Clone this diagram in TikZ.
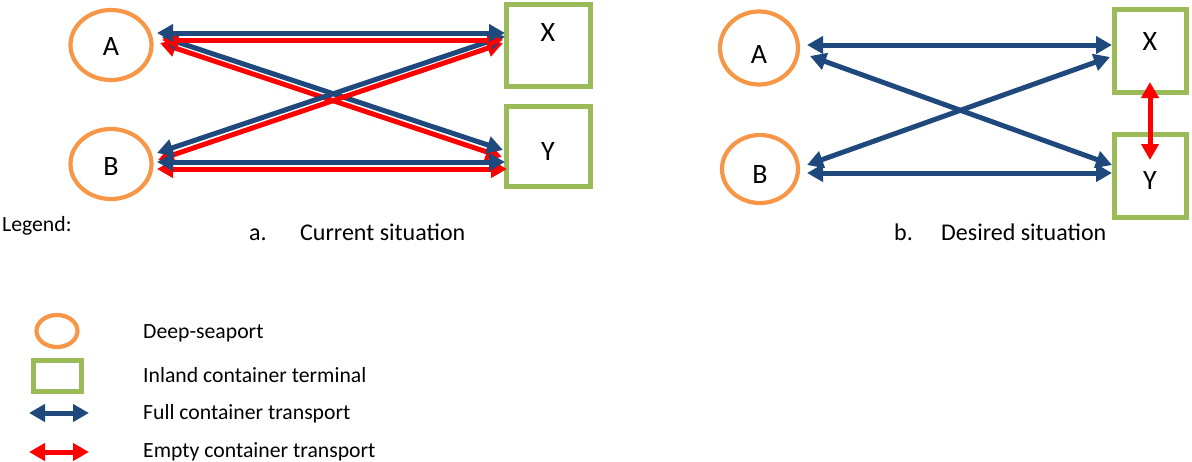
\documentclass[tikz,border=0pt]{standalone}
\usepackage{fontspec}
\setmainfont{Carlito}
\usepackage{tikz}
\usetikzlibrary{arrows.meta,shapes.geometric,calc}

\definecolor{portorange}{HTML}{F79646}
\definecolor{termgreen}{HTML}{9BBB59}
\definecolor{fullblue}{RGB}{31,73,125}
\definecolor{emptyred}{RGB}{255,0,0}

\begin{document}
\begin{tikzpicture}[
  x=1pt, y=-1pt,
  port/.style={draw=portorange, line width=4.2pt, ellipse, inner sep=0pt},
  term/.style={draw=termgreen, line width=5pt, rectangle, inner sep=0pt},
  lbl/.style={font=\fontsize{28}{30}\selectfont},
  captxt/.style={font=\fontsize{24}{26}\selectfont, anchor=base west, inner sep=0pt},
  legtxt/.style={font=\fontsize{21.7}{24}\selectfont, anchor=base west, inner sep=0pt},
  fullarr/.style={{Triangle[length=16pt,width=17pt]}-{Triangle[length=16pt,width=17pt]},
               draw=fullblue, line width=5pt},
  emptyarr/.style={{Triangle[length=16pt,width=17pt]}-{Triangle[length=16pt,width=17pt]},
                draw=emptyred, line width=5pt},
]
\useasboundingbox (0,0) rectangle (1192,461);

% a. current situation
\node[port, minimum width=81pt, minimum height=70pt,
      label={[lbl, yshift=-2pt]center:A}] (aA) at (111,45) {};
\node[port, minimum width=81pt, minimum height=70pt,
      label={[lbl, yshift=-3pt]center:B}] (aB) at (111,164) {};
\node[term, minimum width=84pt, minimum height=82pt,
      label={[lbl, yshift=12pt]center:X}] (aX) at (548,45) {};
\node[term, minimum width=84pt, minimum height=80pt,
      label={[lbl, yshift=-6pt]center:Y}] (aY) at (548,146) {};

\draw[emptyarr] ($(aA)+(49,-2)$) -- ($(aY)+(-46,11)$);
\draw[fullarr]  ($(aA)+(51,-8)$) -- ($(aY)+(-45,4)$);
\draw[emptyarr] ($(aB)+(47,-4)$) -- ($(aX)+(-45,-2)$);
\draw[fullarr]  ($(aB)+(46,-11)$) -- ($(aX)+(-43,-9)$);
\draw[emptyarr] ($(aA)+(51,-5)$) -- ($(aX)+(-45,-5)$);
\draw[fullarr]  ($(aA)+(46,-12)$) -- ($(aX)+(-43,-12)$);
\draw[emptyarr] ($(aB)+(46,5)$) -- ($(aY)+(-41,23)$);
\draw[fullarr]  ($(aB)+(46,-2)$) -- ($(aY)+(-43,16)$);

% b. desired situation
\node[port, minimum width=78pt, minimum height=73pt,
      label={[lbl, yshift=-7pt]center:A}] (bA) at (759,48) {};
\node[port, minimum width=76pt, minimum height=68pt,
      label={[lbl, yshift=-6pt]center:B}] (bB) at (760,169) {};
\node[term, minimum width=72pt, minimum height=83pt,
      label={[lbl, yshift=9pt]center:X}] (bX) at (1150,51) {};
\node[term, minimum width=72pt, minimum height=83pt,
      label={[lbl, yshift=-5pt]center:Y}] (bY) at (1150,176) {};

\draw[fullarr]  ($(bA)+(48,-3)$) -- ($(bX)+(-38,-6)$);
\draw[fullarr]  ($(bA)+(51,8)$) -- ($(bY)+(-38,-11)$);
\draw[fullarr]  ($(bB)+(47,-4)$) -- ($(bX)+(-40,6)$);
\draw[fullarr]  ($(bB)+(47,4)$) -- ($(bY)+(-38,-3)$);
\draw[emptyarr] ($(bX)+(0,31)$) -- ($(bY)+(0,-16)$);

% captions
\node[legtxt] (legend) at (2,231) {Legend:};
\node[captxt] (capa) at (249,240) {a.};
\node[captxt] (capat) at (300,240) {Current situation};
\node[captxt] (capb) at (894,240) {b.};
\node[captxt] (capbt) at (941,240) {Desired situation};

% legend
\node[port, minimum width=41pt, minimum height=32pt] (lport) at (57,331) {};
\node[term, minimum width=48pt, minimum height=31pt] (lterm) at (57,376) {};
\coordinate (lfullL) at (29,413);
\coordinate (lfullR) at (89,413);
\coordinate (lemptyL) at (29,452);
\coordinate (lemptyR) at (89,452);
\draw[fullarr]  (lfullL) -- (lfullR);
\draw[emptyarr] (lemptyL) -- (lemptyR);
\node[legtxt] (tport) at (143,338) {Deep-seaport};
\node[legtxt] (tterm) at (143,382) {Inland container terminal};
\node[legtxt] (tfull) at (143,419) {Full container transport};
\node[legtxt] (tempty) at (143,457) {Empty container transport};
\end{tikzpicture}
\end{document}
